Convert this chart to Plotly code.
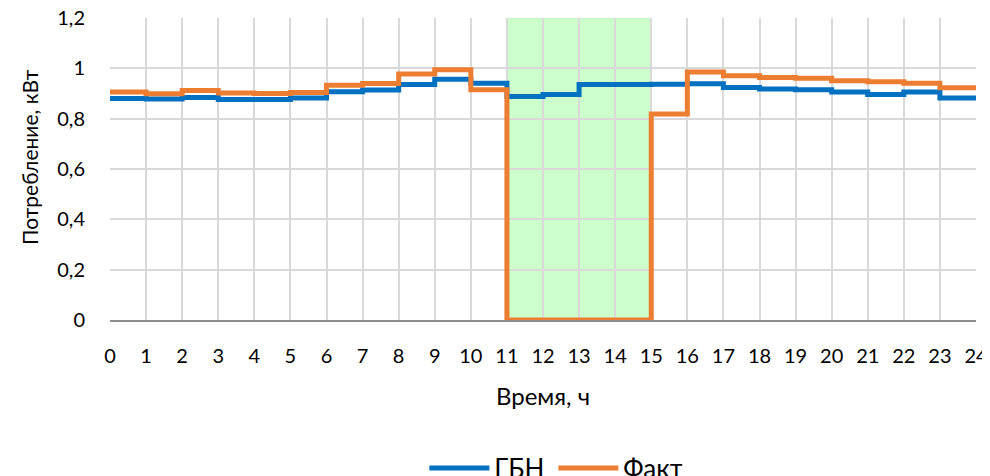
import plotly.graph_objects as go

hours = list(range(25))
gbn = [0.880, 0.878, 0.884, 0.876, 0.876, 0.882, 0.907, 0.914, 0.936, 0.957, 0.941, 0.888,
       0.896, 0.936, 0.936, 0.937, 0.939, 0.924, 0.918, 0.915, 0.906, 0.896, 0.906, 0.882]
fact = [0.906, 0.899, 0.912, 0.902, 0.900, 0.904, 0.933, 0.940, 0.977, 0.994, 0.915, 0.0,
        0.0, 0.0, 0.0, 0.819, 0.985, 0.971, 0.964, 0.961, 0.951, 0.947, 0.941, 0.923]
shade_start, shade_end = 11, 15

font = "Lato"

fig = go.Figure()
fig.add_trace(go.Scatter(x=hours, y=gbn + [gbn[-1]], mode="lines", line_shape="hv",
                         name="ГБН", line=dict(color="#0070c0", width=5)))
fig.add_trace(go.Scatter(x=hours, y=fact + [fact[-1]], mode="lines", line_shape="hv",
                         name="Факт", line=dict(color="#ed7d31", width=5)))

fig.add_shape(type="rect", xref="x", yref="y", x0=shade_start, x1=shade_end, y0=0, y1=1.2,
              fillcolor="#ccffcc", line=dict(color="#b8f0b8", width=1), layer="below")

fig.add_annotation(text="Потребление, кВт", xref="paper", yref="paper", x=0, y=0.54,
                   xanchor="center", yanchor="middle", xshift=-80, textangle=-90,
                   showarrow=False, font=dict(size=21))

fig.update_layout(
    width=982, height=468,
    margin=dict(l=102, r=14, t=10, b=156, autoexpand=False),
    paper_bgcolor="white", plot_bgcolor="rgba(0,0,0,0)",
    separators=", ",
    font=dict(family=font, size=20, color="#000000"),
    showlegend=True,
    legend=dict(orientation="h", x=0.424, xanchor="left", xref="container",
                y=-0.49, yanchor="middle", yref="paper",
                font=dict(size=26), itemwidth=60, entrywidth=54, entrywidthmode="pixels",
                tracegroupgap=0),
)
fig.update_xaxes(range=[0, 24], tickmode="linear", tick0=0, dtick=1,
                 showgrid=True, gridcolor="#d9d9d9", gridwidth=2,
                 showline=True, linecolor="#8c8c8c", linewidth=2,
                 ticks="", ticklabelstandoff=17, zeroline=False, automargin=False,
                 ticklabeloverflow="allow",
                 title=dict(text="Время, ч", standoff=22, font=dict(size=24)))
fig.update_yaxes(range=[0, 1.2], tickmode="linear", tick0=0, dtick=0.2,
                 showgrid=True, gridcolor="#d9d9d9", gridwidth=2,
                 showline=False, zeroline=False, ticks="", ticklabelstandoff=24,
                 automargin=False, ticklabeloverflow="allow")

fig.write_html("out.html")
